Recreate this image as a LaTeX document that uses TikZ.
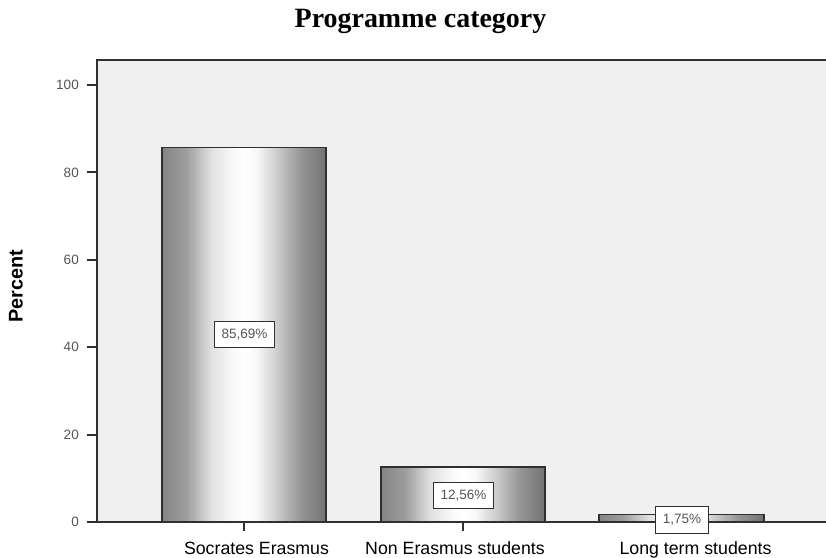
\documentclass[tikz,border=0pt]{standalone}
\usepackage{fontspec}
\setmainfont{Liberation Serif}
\newfontfamily\arialfont{Liberation Sans}

\definecolor{plotbg}{HTML}{F0F0F0}
\definecolor{framegray}{HTML}{303030}
\definecolor{labelgray}{HTML}{555555}

% tikz maps the path onto 25bp..75bp
\pgfdeclarehorizontalshading{barshade}{100bp}{%
  color(0bp)=(black!48); color(25bp)=(black!48); color(32.5bp)=(black!38);
  color(40bp)=(black!12); color(46bp)=(black!3); color(50bp)=(white);
  color(54bp)=(black!3); color(60bp)=(black!20); color(67.5bp)=(black!42);
  color(75bp)=(black!55); color(100bp)=(black!55)}

\tikzset{
  bar/.style={draw=framegray,line width=0.9pt,shading=barshade},
  pctbox/.style={draw=framegray,fill=white,line width=0.7pt,inner xsep=4pt,inner ysep=0pt,
    minimum height=15pt,text=labelgray,font=\arialfont\fontsize{7.7}{9}\selectfont},
  yticklbl/.style={anchor=east,text=labelgray,font=\arialfont\fontsize{7.7}{9}\selectfont},
  catlbl/.style={anchor=base,font=\arialfont\fontsize{10.1}{12}\selectfont}
}

\begin{document}
\begin{tikzpicture}[x=0.02cm,y=0.02cm]
   \useasboundingbox (0,0) rectangle (826,558);
   % plot area
   \fill[plotbg] (97,36) rectangle (826,498);
   \draw[framegray,line width=1.1pt] (826,498) -- (97,498) -- (97,36) -- (826,36);
   % y axis ticks
   \draw[framegray,line width=1.1pt] (87,36) -- (97,36);
   \draw[framegray,line width=1.1pt] (87,123.4) -- (97,123.4);
   \draw[framegray,line width=1.1pt] (87,210.8) -- (97,210.8);
   \draw[framegray,line width=1.1pt] (87,298.2) -- (97,298.2);
   \draw[framegray,line width=1.1pt] (87,385.6) -- (97,385.6);
   \draw[framegray,line width=1.1pt] (87,473) -- (97,473);
   \node[yticklbl] (y0) at (85,36) {0};
   \node[yticklbl] (y20) at (85,123.4) {20};
   \node[yticklbl] (y40) at (85,210.8) {40};
   \node[yticklbl] (y60) at (85,298.2) {60};
   \node[yticklbl] (y80) at (85,385.6) {80};
   \node[yticklbl] (y100) at (85,473) {100};
   \node[rotate=90,font=\arialfont\bfseries\fontsize{11.3}{13}\selectfont] (ylabel) at (16,271.5) {Percent};
   % bars
   \draw[bar] (162,36) rectangle (326,410.5);
   \draw[bar] (381,36) rectangle (545,90.9);
   \draw[bar] (599,36) rectangle (764,43.6);
   \draw[framegray,line width=1.1pt] (97,36) -- (826,36);
   % x axis ticks
   \draw[framegray,line width=0.8pt] (244,36) -- (244,27);
   \draw[framegray,line width=0.8pt] (463,36) -- (463,27);
   \draw[framegray,line width=0.8pt] (681.5,36) -- (681.5,27);
   % value labels
   \node[pctbox] (pctSE) at (244.5,223.5) {85,69\%};
   \node[pctbox] (pctNE) at (463.5,62.5) {12,56\%};
   \node[pctbox] (pctLT) at (682,38) {1,75\%};
   % categories
   \node[catlbl] (catSE) at (256.5,3) {Socrates Erasmus};
   \node[catlbl] (catNE) at (455,3) {Non Erasmus students};
   \node[catlbl] (catLT) at (695.5,3) {Long term students};
   % title
   \node[anchor=base,font=\bfseries\fontsize{15.9}{18}\selectfont] (title) at (420.5,530) {Programme category};
\end{tikzpicture}
\end{document}
